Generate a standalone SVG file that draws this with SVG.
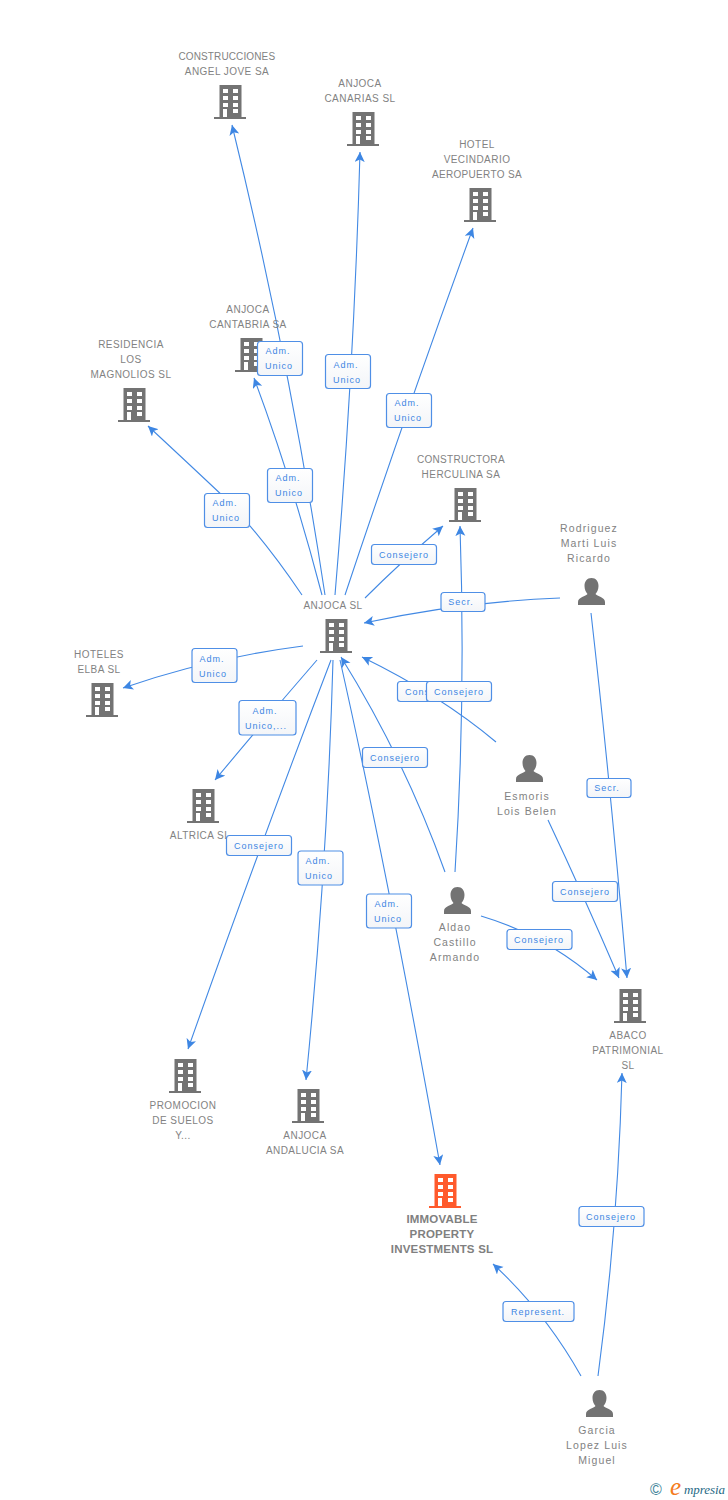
<svg xmlns="http://www.w3.org/2000/svg" width="728" height="1500" viewBox="0 0 728 1500">
<style>
text{font-family:"Liberation Sans",Arial,sans-serif}
.n{font-size:10px;fill:#828282;text-anchor:middle;letter-spacing:.45px}
.p{font-size:10.5px;fill:#828282;text-anchor:middle;letter-spacing:1.1px}
.b{font-size:11.5px;font-weight:bold;fill:#808080;text-anchor:middle;letter-spacing:.2px}
.l{font-size:9px;fill:#3d86e3;text-anchor:middle;letter-spacing:1px}
.c{fill:none;stroke:#4289e4;stroke-width:1.1;marker-end:url(#a)}
.r{fill:url(#g);stroke:#4f8fe6;stroke-width:1.2}
</style>
<defs>
<linearGradient id="g" x1="0" y1="0" x2="0" y2="1"><stop offset="0" stop-color="#fff"/><stop offset="1" stop-color="#f3f5f8"/></linearGradient>
<marker id="a" markerUnits="userSpaceOnUse" markerWidth="12" markerHeight="12" refX="10" refY="5" orient="auto"><path d="M0 0L10 5L0 10L2.500 5Z" fill="#3d86e3"/></marker>
<path id="bp" fill-rule="evenodd" d="M5.500 0H27.500V32H32V34H0V32H5.500ZM9 4V8H14V4ZM19 4V8H24V4ZM9 11V15H14V11ZM19 11V15H24V11ZM9 18V22H14V18ZM19 18V22H24V18ZM9 24V32H13V24ZM19 24V28H24V24Z"/>
<path id="pp" d="M13.500 0C18 0 20.500 3.500 20.500 8C20.500 11.500 19 14.500 17.500 16C19 18.500 27 19 27 24V27H0V24C0 19 8 18.500 9.500 16C8 14.500 6.500 11.500 6.500 8C6.500 3.500 9 0 13.500 0Z"/>
</defs>
<g id="connectors">
<path class="c" d="M325 595Q289.500 360 232 125"/>
<path class="c" d="M322 595Q292 480 254 378"/>
<path class="c" d="M335 595Q354 370 360 152"/>
<path class="c" d="M345 595Q405 415 473 228"/>
<path class="c" d="M302 595Q265 540 225 498Q190 465 148 426"/>
<path class="c" d="M365 598Q400 563 443 526"/>
<path class="c" d="M560 598Q460 602 364 623"/>
<path class="c" d="M303 646Q210 658 123 688"/>
<path class="c" d="M317 660Q265 720 215 780"/>
<path class="c" d="M331 660Q262 840 188 1049"/>
<path class="c" d="M333 660Q327 870 306 1080"/>
<path class="c" d="M340 660Q388 874 440 1165"/>
<path class="c" d="M445 872Q405 760 341 657"/>
<path class="c" d="M496 742Q440 695 362 657"/>
<path class="c" d="M455 872Q466 700 460 526"/>
<path class="c" d="M591 613Q610 780 627 978"/>
<path class="c" d="M548 820Q582 892 619 978"/>
<path class="c" d="M481 916Q545 935 597 980"/>
<path class="c" d="M581 1376Q545 1312 493 1264"/>
<path class="c" d="M598 1376Q618 1226 622 1073"/>
</g>
<g id="n1" fill="#737373"><use href="#bp" x="214" y="85"/><text class="n" x="227" y="60" textLength="97">CONSTRUCCIONES</text><text class="n" x="227" y="75">ANGEL JOVE SA</text></g>
<g id="n2" fill="#737373"><use href="#bp" x="347" y="112"/><text class="n" x="360" y="87">ANJOCA</text><text class="n" x="360" y="102">CANARIAS SL</text></g>
<g id="n3" fill="#737373"><use href="#bp" x="464" y="188"/><text class="n" x="477" y="148">HOTEL</text><text class="n" x="477" y="163">VECINDARIO</text><text class="n" x="477" y="178" textLength="90">AEROPUERTO SA</text></g>
<g id="n4" fill="#737373"><use href="#bp" x="235" y="338"/><text class="n" x="248" y="313">ANJOCA</text><text class="n" x="248" y="328">CANTABRIA SA</text></g>
<g id="n5" fill="#737373"><use href="#bp" x="118" y="388"/><text class="n" x="131" y="348">RESIDENCIA</text><text class="n" x="131" y="363">LOS</text><text class="n" x="131" y="378">MAGNOLIOS SL</text></g>
<g id="n6" fill="#737373"><use href="#bp" x="449" y="488"/><text class="n" x="461" y="463" textLength="88">CONSTRUCTORA</text><text class="n" x="461" y="478">HERCULINA SA</text></g>
<g id="n7" fill="#737373"><use href="#bp" x="320" y="619"/><text class="n" x="333" y="609">ANJOCA SL</text></g>
<g id="n8" fill="#737373"><use href="#bp" x="86" y="683"/><text class="n" x="99" y="658">HOTELES</text><text class="n" x="99" y="673">ELBA SL</text></g>
<g id="n9" fill="#737373"><use href="#bp" x="187" y="789"/><text class="n" x="200" y="839">ALTRICA SL</text></g>
<g id="n10" fill="#737373"><use href="#bp" x="169" y="1059"/><text class="n" x="183" y="1109">PROMOCION</text><text class="n" x="183" y="1124">DE SUELOS</text><text class="n" x="183" y="1139">Y...</text></g>
<g id="n11" fill="#737373"><use href="#bp" x="292" y="1089"/><text class="n" x="305" y="1139">ANJOCA</text><text class="n" x="305" y="1154">ANDALUCIA SA</text></g>
<g id="n12" fill="#ff5a2c"><use href="#bp" x="429" y="1174"/><text class="b" x="442" y="1223">IMMOVABLE</text><text class="b" x="442" y="1238">PROPERTY</text><text class="b" x="442" y="1253">INVESTMENTS SL</text></g>
<g id="n13" fill="#737373"><use href="#bp" x="614" y="989"/><text class="n" x="628" y="1039">ABACO</text><text class="n" x="628" y="1054">PATRIMONIAL</text><text class="n" x="628" y="1069">SL</text></g>
<g id="p1" fill="#737373"><use href="#pp" x="578" y="578"/><text class="p" x="589" y="532">Rodriguez</text><text class="p" x="589" y="547">Marti Luis</text><text class="p" x="589" y="562">Ricardo</text></g>
<g id="p2" fill="#737373"><use href="#pp" x="516" y="755"/><text class="p" x="527" y="800">Esmoris</text><text class="p" x="527" y="815">Lois Belen</text></g>
<g id="p3" fill="#737373"><use href="#pp" x="444" y="887"/><text class="p" x="455" y="931">Aldao</text><text class="p" x="455" y="946">Castillo</text><text class="p" x="455" y="961">Armando</text></g>
<g id="p4" fill="#737373"><use href="#pp" x="586" y="1390"/><text class="p" x="597" y="1434">Garcia</text><text class="p" x="597" y="1449">Lopez Luis</text><text class="p" x="597" y="1464">Miguel</text></g>
<g id="labels">
<rect class="r" x="257.500" y="341.500" width="45" height="34" rx="3"/><text class="l" x="278" y="354">Adm.</text><text class="l" x="279" y="369">Unico</text>
<rect class="r" x="325.500" y="354.500" width="45" height="34" rx="3"/><text class="l" x="346" y="368">Adm.</text><text class="l" x="347" y="383">Unico</text>
<rect class="r" x="386.500" y="393.500" width="45" height="34" rx="3"/><text class="l" x="407" y="406">Adm.</text><text class="l" x="408" y="421">Unico</text>
<rect class="r" x="204.500" y="493.500" width="45" height="34" rx="3"/><text class="l" x="225" y="506">Adm.</text><text class="l" x="226" y="521">Unico</text>
<rect class="r" x="267.500" y="468.500" width="45" height="34" rx="3"/><text class="l" x="288" y="481">Adm.</text><text class="l" x="289" y="496">Unico</text>
<rect class="r" x="371.500" y="544.500" width="65" height="20" rx="3"/><text class="l" x="404" y="558">Consejero</text>
<rect class="r" x="441" y="592.500" width="44" height="19" rx="3"/><text class="l" x="461" y="605">Secr.</text>
<rect class="r" x="192" y="648.500" width="45" height="34" rx="3"/><text class="l" x="212" y="662">Adm.</text><text class="l" x="213" y="677">Unico</text>
<rect class="r" x="397.500" y="681.500" width="65" height="20" rx="3"/><text class="l" x="405" y="695" style="text-anchor:start">Cons</text>
<rect class="r" x="426.500" y="681.500" width="65" height="20" rx="3"/><text class="l" x="459" y="695">Consejero</text>
<rect class="r" x="239" y="700.500" width="57" height="34.500" rx="3"/><text class="l" x="265" y="714">Adm.</text><text class="l" x="266" y="729">Unico,...</text>
<rect class="r" x="362.500" y="747.500" width="65" height="20" rx="3"/><text class="l" x="395" y="761">Consejero</text>
<rect class="r" x="587" y="778.500" width="44" height="19" rx="3"/><text class="l" x="607" y="791">Secr.</text>
<rect class="r" x="226.500" y="835.500" width="65" height="20" rx="3"/><text class="l" x="259" y="849">Consejero</text>
<rect class="r" x="298" y="851" width="45" height="34" rx="3"/><text class="l" x="318" y="864">Adm.</text><text class="l" x="319" y="879">Unico</text>
<rect class="r" x="552.500" y="881.500" width="65" height="20" rx="3"/><text class="l" x="585" y="895">Consejero</text>
<rect class="r" x="366.500" y="894" width="45" height="34" rx="3"/><text class="l" x="387" y="907">Adm.</text><text class="l" x="388" y="922">Unico</text>
<rect class="r" x="507" y="929.500" width="65" height="20" rx="3"/><text class="l" x="539" y="943">Consejero</text>
<rect class="r" x="579" y="1206.500" width="65" height="20" rx="3"/><text class="l" x="611" y="1220">Consejero</text>
<rect class="r" x="503" y="1301.500" width="71" height="20" rx="3"/><text class="l" x="538" y="1315">Represent.</text>
</g>
<g id="logo"><text x="650" y="1495" font-size="16" fill="#3b8196">©</text><text x="670" y="1495" font-size="25" fill="#f47b20" font-style="italic" style="font-family:'Liberation Serif',serif">e</text><text x="684" y="1494" font-size="13" fill="#1f6a85" font-style="italic" textLength="41" style="font-family:'Liberation Serif',serif">mpresia</text></g>
</svg>
